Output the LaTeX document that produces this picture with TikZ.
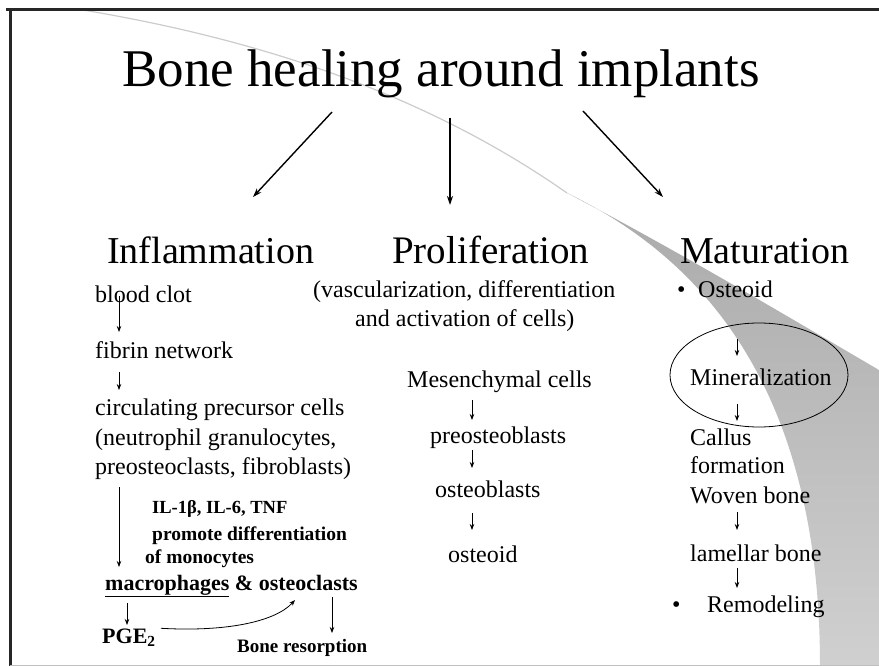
\documentclass[tikz,border=0pt]{standalone}
\usepackage{fontspec}
\setmainfont{Liberation Serif}
\usetikzlibrary{arrows.meta,shapes.geometric}
\begin{document}
\begin{tikzpicture}[x=1pt,y=-1pt,
  body/.style={anchor=base west, inner sep=0pt, font=\fontsize{24}{28}\selectfont},
  headtxt/.style={anchor=base west, inner sep=0pt, font=\fontsize{38}{44}\selectfont},
  bld/.style={anchor=base west, inner sep=0pt, font=\bfseries\fontsize{20}{24}\selectfont},
  sarr/.style={-{Stealth[length=6pt,width=4.5pt]}, line width=0.8pt},
  barr/.style={-{Stealth[length=9pt,width=6pt]}, line width=1.4pt}]
\useasboundingbox (0,0) rectangle (879,666);
\fill[white] (0,0) rectangle (879,666);
% grey swoosh
\draw[line width=1.2pt, gray!40] (83,10) .. controls (250,38) and (420,90) .. (567,193);
\shade[top color={rgb,255:red,170;green,170;blue,170}, bottom color={rgb,255:red,208;green,208;blue,208}]
  (567,193) .. controls (680,252) and (790,318) .. (879,370) -- (879,666) -- (820,666)
  .. controls (820,380) and (695,255) .. (567,193) -- cycle;
% frame
\draw[line width=3pt, black!85] (6,10) -- (879,10);
\draw[line width=3pt, black!85] (10,8) -- (10,666);
\draw[line width=1pt, gray!50] (10,665) -- (879,665);
% title
\node[anchor=base, inner sep=0pt, font=\fontsize{53}{60}\selectfont] (title) at (441,87) {Bone healing around implants};
\node[headtxt] (infl) at (107,263) {Inflammation};
\node[headtxt, font=\fontsize{39}{44}\selectfont] (prol) at (392,263) {Proliferation};
\node[headtxt] (matu) at (680,263) {Maturation};
\coordinate (t1s) at (332,112); \coordinate (t1e) at (253,197);
\coordinate (t2s) at (450,118); \coordinate (t2e) at (450,205);
\coordinate (t3s) at (583,111); \coordinate (t3e) at (663,197);
\draw[barr] (t1s) -- (t1e);
\draw[barr] (t2s) -- (t2e);
\draw[barr] (t3s) -- (t3e);
% inflammation column
\node[body] (blood) at (95,302) {blood clot};
\node[body] (fibrin) at (95,358) {fibrin network};
\node[body] (circ) at (95,415) {circulating precursor cells};
\node[body] (neut) at (95,445) {(neutrophil granulocytes,};
\node[body] (preo) at (95,474) {preosteoclasts, fibroblasts)};
\node[bld, font=\bfseries\fontsize{18.5}{22}\selectfont] (il) at (152,513) {IL-1β, IL-6, TNF};
\node[bld, font=\bfseries\fontsize{19.5}{24}\selectfont] (prom) at (152,540) {promote differentiation};
\node[bld, font=\bfseries\fontsize{19.5}{24}\selectfont] (mono) at (145,563) {of monocytes};
\node[bld, font=\bfseries\fontsize{22}{26}\selectfont] (mac) at (105,590) {\underline{macrophages} \& osteoclasts};
\node[bld, font=\bfseries\fontsize{22}{26}\selectfont] (pge) at (102,643) {PGE\textsubscript{2}};
\node[bld, font=\bfseries\fontsize{19}{23}\selectfont] (bres) at (237,652) {Bone resorption};
\coordinate (a1s) at (119,296); \coordinate (a1e) at (119,332);
\coordinate (a2s) at (119,372); \coordinate (a2e) at (119,390);
\coordinate (a3s) at (119,487); \coordinate (a3e) at (119,567);
\coordinate (a4s) at (127,603); \coordinate (a4e) at (127,625);
\coordinate (a5s) at (332,597); \coordinate (a5e) at (332,633);
\coordinate (mo) at (295,600);
\draw[sarr] (a1s) -- (a1e);
\draw[sarr] (a2s) -- (a2e);
\draw[sarr] (a3s) -- (a3e);
\draw[sarr] (a4s) -- (a4e);
\draw[sarr] (a5s) -- (a5e);
\draw[sarr] (pge.east) ++(5,-9) .. controls (225,632) and (275,622) .. (mo);
% proliferation column
\node[body] (vasc) at (313,298) {(vascularization, differentiation};
\node[body] (act) at (355,326) {and activation of cells)};
\node[body] (mes) at (407,387) {Mesenchymal cells};
\node[body] (preob) at (430,443) {preosteoblasts};
\node[body] (ob) at (435,497) {osteoblasts};
\node[body] (ost) at (448,562) {osteoid};
\coordinate (p1s) at (472,400); \coordinate (p1e) at (472,420);
\coordinate (p2s) at (472,450); \coordinate (p2e) at (472,468);
\coordinate (p3s) at (472,513); \coordinate (p3e) at (472,530);
\draw[sarr] (p1s) -- (p1e);
\draw[sarr] (p2s) -- (p2e);
\draw[sarr] (p3s) -- (p3e);
% maturation column
\node[body] (b1) at (677,297) {•};
\node[body] (osteoid) at (698,297) {Osteoid};
\node[draw, ellipse, line width=0.8pt, minimum width=178pt, minimum height=104pt, inner sep=0pt] (ell) at (759,375) {};
\node[body] (mine) at (690,385) {Mineralization};
\node[body] (callus) at (690,445) {Callus};
\node[body] (form) at (690,473) {formation};
\node[body] (woven) at (690,503) {Woven bone};
\node[body] (lam) at (690,561) {lamellar bone};
\node[body] (b2) at (672,612) {•};
\node[body] (remo) at (707,612) {Remodeling};
\coordinate (m1s) at (737,339); \coordinate (m1e) at (737,356);
\coordinate (m2s) at (737,404); \coordinate (m2e) at (737,421);
\coordinate (m3s) at (737,512); \coordinate (m3e) at (737,530);
\coordinate (m4s) at (737,568); \coordinate (m4e) at (737,588);
\draw[sarr] (m1s) -- (m1e);
\draw[sarr] (m2s) -- (m2e);
\draw[sarr] (m3s) -- (m3e);
\draw[sarr] (m4s) -- (m4e);
\end{tikzpicture}
\end{document}
